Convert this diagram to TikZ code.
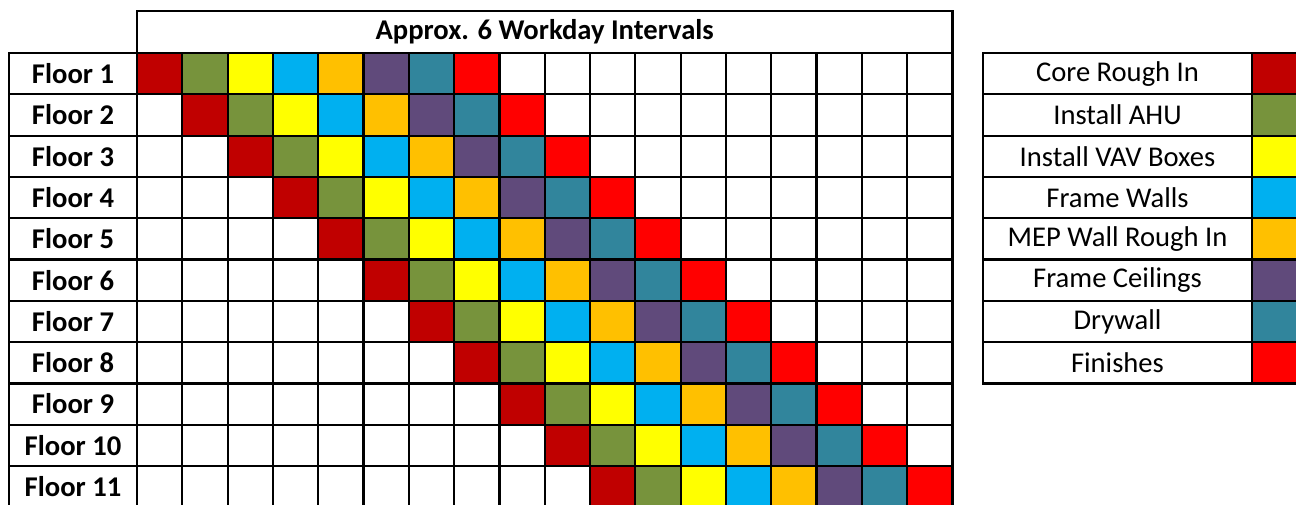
\documentclass[tikz,border=0pt]{standalone}
\usepackage{fontspec}
\setmainfont{Carlito}
\usepackage{xcolor}
\definecolor{cCore}{HTML}{C00000}
\definecolor{cAhu}{HTML}{77933C}
\definecolor{cVav}{HTML}{FFFF00}
\definecolor{cWall}{HTML}{00B0F0}
\definecolor{cMep}{HTML}{FFC000}
\definecolor{cCeil}{HTML}{604A7B}
\definecolor{cDry}{HTML}{31859C}
\definecolor{cFin}{HTML}{FF0000}
\tikzset{
  cellbox/.style  = {draw=black, line width=1.1pt},
  rowlabel/.style = {font=\fontsize{14.3}{16}\selectfont\bfseries, inner sep=0pt},
  keylabel/.style = {font=\fontsize{14.3}{16}\selectfont, inner sep=0pt},
}
\begin{document}
\begin{tikzpicture}[x=0.5pt,y=-0.5pt]
  \useasboundingbox (0,0) rectangle (1296,504);
  \clip (0,0) rectangle (1296,504);
  % task colours, shifted one interval per floor
  \foreach \f in {1,...,11}
    \foreach \c [count=\k] in {cCore,cAhu,cVav,cWall,cMep,cCeil,cDry,cFin}
      \fill[\c] ({137+(\f+\k-2)*45.3},{53+(\f-1)*41.3}) rectangle ++(45.3,41.3);
  % grid
  \foreach \r in {0,...,10} {
    \draw[cellbox] (9,{53+\r*41.3}) rectangle ++(128,41.3);
    \foreach \c in {0,...,17}
      \draw[cellbox] ({137+\c*45.3},{53+\r*41.3}) rectangle ++(45.3,41.3);
  }
  \draw[cellbox] (137,11) rectangle (952.4,53);
  \node[rowlabel] (hdr) at (544.7,32) {Approx. 6 Workday Intervals};
  \foreach \r in {1,...,11}
    \node[rowlabel] (fl\r) at (73,{53+(\r-0.5)*41.3}) {Floor \r};
  % legend
  \foreach \t/\c [count=\k] in {Core Rough In/cCore, Install AHU/cAhu,
      Install VAV Boxes/cVav, Frame Walls/cWall, MEP Wall Rough In/cMep,
      Frame Ceilings/cCeil, Drywall/cDry, Finishes/cFin} {
    \draw[cellbox] (983,{53+(\k-1)*41.3}) rectangle ++(269,41.3);
    \draw[cellbox, fill=\c] (1252,{53+(\k-1)*41.3}) rectangle ++(60,41.3);
    \node[keylabel] (key\k) at (1117.5,{53+(\k-0.5)*41.3}) {\t};
  }
\end{tikzpicture}
\end{document}
